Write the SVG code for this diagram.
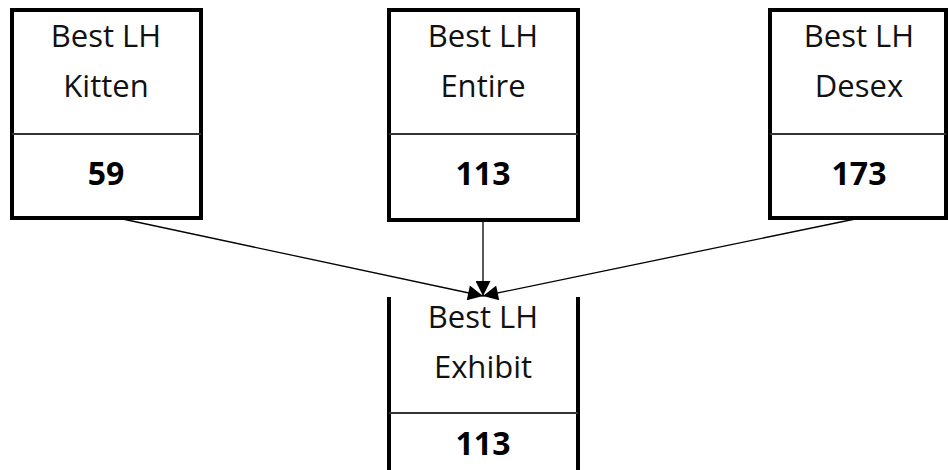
<svg xmlns="http://www.w3.org/2000/svg" width="948" height="470" viewBox="0 0 948 470">
<style>
.box{fill:#fff;stroke:#000;stroke-width:4}
.div{stroke:#333;stroke-width:2}
.t{font-family:"Open Sans","Noto Sans",sans-serif;font-size:31px;fill:#111;text-anchor:middle}
.n{font-family:"Open Sans","Noto Sans",sans-serif;font-size:32px;font-weight:bold;fill:#000;text-anchor:middle}
.c{stroke:#000;stroke-width:1.3;fill:none;marker-end:url(#ah)}
</style>
<defs>
<marker id="ah" viewBox="0 0 10 10" refX="10" refY="5" markerWidth="16" markerHeight="15" markerUnits="userSpaceOnUse" orient="auto">
<path d="M0,0 L10,5 L0,10 z" fill="#000"/>
</marker>
</defs>
<rect width="948" height="470" fill="#fff"/>
<g id="kitten">
<rect class="box" x="12" y="10" width="189" height="208"/>
<line class="div" x1="12" y1="134" x2="201" y2="134"/>
<text class="t" x="106" y="47">Best LH</text>
<text class="t" x="106" y="97">Kitten</text>
<text class="n" x="106" y="185">59</text>
</g>
<g id="entire">
<rect class="box" x="389" y="10" width="189" height="210"/>
<line class="div" x1="389" y1="134" x2="578" y2="134"/>
<text class="t" x="483" y="47">Best LH</text>
<text class="t" x="483" y="97">Entire</text>
<text class="n" x="483" y="185">113</text>
</g>
<g id="desex">
<rect class="box" x="770" y="10" width="176" height="208"/>
<line class="div" x1="770" y1="134" x2="946" y2="134"/>
<text class="t" x="859" y="47">Best LH</text>
<text class="t" x="859" y="97">Desex</text>
<text class="n" x="859" y="185">173</text>
</g>
<g id="exhibit">
<path d="M389,297 V474 H578 V297" fill="#fff" stroke="#000" stroke-width="4"/>
<line class="div" x1="389" y1="413" x2="578" y2="413"/>
<text class="t" x="483" y="328">Best LH</text>
<text class="t" x="483" y="378">Exhibit</text>
<text class="n" x="483" y="455">113</text>
</g>
<g id="connectors">
<line class="c" x1="118" y1="218" x2="483" y2="296"/>
<line class="c" x1="483" y1="222" x2="483" y2="296"/>
<line class="c" x1="860" y1="218" x2="483" y2="296"/>
</g>
</svg>
